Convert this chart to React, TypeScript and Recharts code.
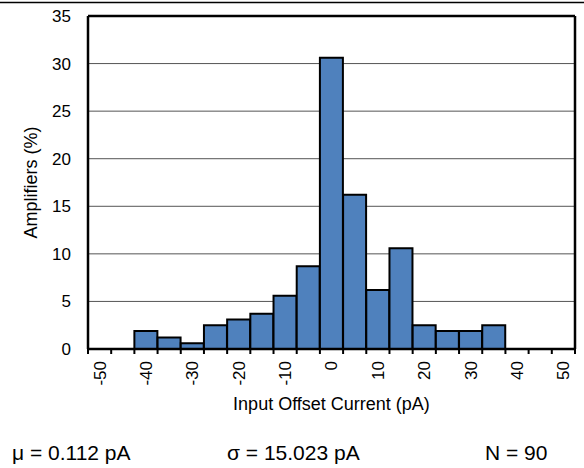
import React from "react";
import { Bar, BarChart, CartesianGrid, ReferenceLine, XAxis, YAxis } from "recharts";

const bins = [
  "-50", "-45", "-40", "-35", "-30", "-25", "-20", "-15", "-10", "-5", "0",
  "5", "10", "15", "20", "25", "30", "35", "40", "45", "50",
];
const amplifiers = [
  0, 0, 1.9, 1.2, 0.6, 2.5, 3.1, 3.7, 5.6, 8.7, 30.6,
  16.2, 6.2, 10.6, 2.5, 1.9, 1.9, 2.5, 0, 0, 0,
];
const yTicks = [0, 5, 10, 15, 20, 25, 30, 35];
const stats = ["μ = 0.112 pA", "σ = 15.023 pA", "N = 90"];

const data = bins.map((bin, i) => ({ bin, pct: amplifiers[i] }));

const FONT = "'Liberation Sans', Arial, Helvetica, sans-serif";
const frame = { stroke: "#000", strokeWidth: 2.5 };

function XTick(props: any) {
  const { x, y, payload, index } = props;
  const half = payload && payload.offset > 0 ? payload.offset : 11.6;
  const showLabel = Number(payload.value) % 10 === 0;
  const ly = y + 12;
  return (
    <g>
      <line x1={x - half} x2={x - half} y1={y} y2={y + 5} stroke="#000" strokeWidth={2} />
      {index === bins.length - 1 && (
        <line x1={x + half} x2={x + half} y1={y} y2={y + 5} stroke="#000" strokeWidth={2} />
      )}
      {showLabel && (
        <text
          x={x}
          y={ly}
          dy="0.35em"
          transform={`rotate(-90 ${x} ${ly})`}
          textAnchor="end"
          fontSize={17}
          fontFamily={FONT}
          fill="#000"
        >
          {payload.value}
        </text>
      )}
    </g>
  );
}

export default function App() {
  return (
    <div style={{ position: "absolute", left: 0, top: 0, width: 584, height: 468, background: "#fff" }}>
      <BarChart
        width={584}
        height={468}
        data={data}
        margin={{ top: 16, right: 9, bottom: 0, left: 0 }}
        barCategoryGap={0}
      >
        <CartesianGrid horizontal vertical={false} stroke="#555" strokeWidth={1} />
        <Bar dataKey="pct" fill="#4F81BD" stroke="#000" strokeWidth={2} isAnimationActive={false} />
        <ReferenceLine y={35} stroke="#000" strokeWidth={2.5} />
        <ReferenceLine x="50" position="end" stroke="#000" strokeWidth={2.5} />
        <XAxis
          dataKey="bin"
          interval={0}
          height={119}
          tickSize={0}
          tickMargin={0}
          tickLine={false}
          axisLine={frame}
          tick={<XTick />}
          label={{
            value: "Input Offset Current (pA)",
            position: "insideBottom",
            offset: 58,
            fontSize: 18,
            fontFamily: FONT,
            fill: "#000",
          }}
        />
        <YAxis
          type="number"
          domain={[0, 35]}
          ticks={yTicks}
          width={88}
          tickSize={0}
          tickMargin={17}
          tickLine={false}
          axisLine={frame}
          tick={{ fontSize: 17, fontFamily: FONT, fill: "#000" }}
          label={{
            value: "Amplifiers (%)",
            angle: -90,
            position: "insideLeft",
            offset: 31,
            fontSize: 18,
            fontFamily: FONT,
            fill: "#000",
            style: { textAnchor: "middle" },
          }}
        />
      </BarChart>
      <svg
        width={584}
        height={468}
        style={{ position: "absolute", left: 0, top: 0, pointerEvents: "none" }}
      >
        <line x1={0} x2={584} y1={2.5} y2={2.5} stroke="#000" strokeWidth={1.5} />
        <text x={12} y={460} fontSize={21} fontFamily={FONT} fill="#000">{stats[0]}</text>
        <text x={227} y={460} fontSize={21} fontFamily={FONT} fill="#000">{stats[1]}</text>
        <text x={485} y={460} fontSize={21} fontFamily={FONT} fill="#000">{stats[2]}</text>
      </svg>
    </div>
  );
}
